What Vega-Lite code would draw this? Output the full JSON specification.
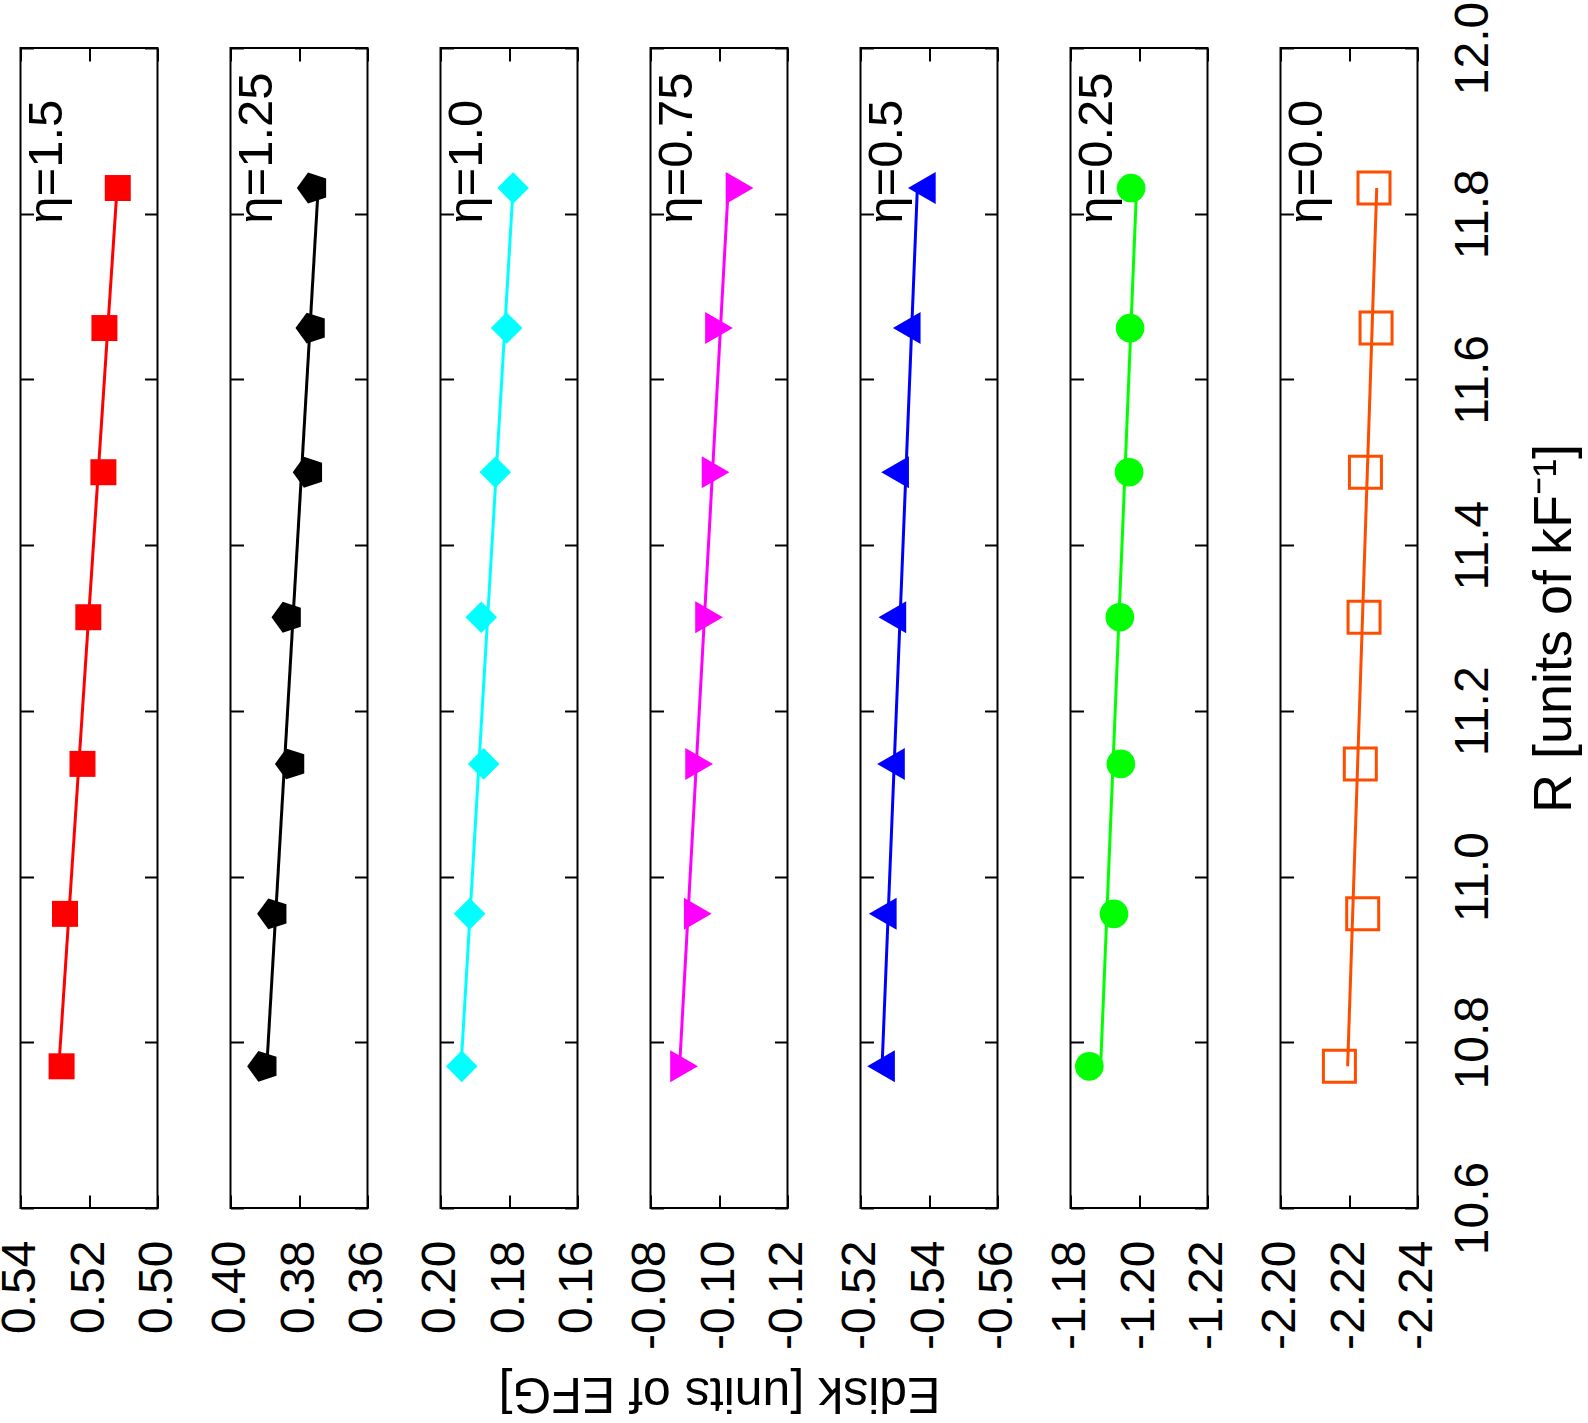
{
  "$schema": "https://vega.github.io/schema/vega-lite/v6.json",
  "background": "white",
  "padding": {"left": -4.5, "top": 0, "right": 0, "bottom": 0},
  "bounds": "flush",
  "spacing": 73,
  "config": {
    "font": "Liberation Sans",
    "view": {"stroke": "black", "strokeWidth": 2},
    "axis": {"domain": false, "grid": false, "tickColor": "black", "tickWidth": 2, "tickSize": -13, "labelFont": "Liberation Sans", "labelFontSize": 48, "labelColor": "black", "labelPadding": 45, "labelOverlap": false, "labelFlush": false, "labelBound": false, "labelExpr": "replace(datum.label, '−', '-')", "titleFont": "Liberation Sans", "titleFontWeight": "normal", "titleColor": "black"},
    "text": {"font": "Liberation Sans"}
  },
  "datasets": {
    "pts": [
      {"p": 1, "k": "pt", "R": 10.771, "E": 0.5280}, {"p": 1, "k": "pt", "R": 10.955, "E": 0.5270}, {"p": 1, "k": "pt", "R": 11.136, "E": 0.5219}, {"p": 1, "k": "pt", "R": 11.313, "E": 0.5202}, {"p": 1, "k": "pt", "R": 11.488, "E": 0.5158}, {"p": 1, "k": "pt", "R": 11.662, "E": 0.5155}, {"p": 1, "k": "pt", "R": 11.831, "E": 0.5116},
      {"p": 1, "k": "fit", "R": 10.771, "E": 0.5288}, {"p": 1, "k": "fit", "R": 11.831, "E": 0.5118},
      {"p": 2, "k": "pt", "R": 10.771, "E": 0.3904}, {"p": 2, "k": "pt", "R": 10.955, "E": 0.3875}, {"p": 2, "k": "pt", "R": 11.136, "E": 0.3823}, {"p": 2, "k": "pt", "R": 11.313, "E": 0.3833}, {"p": 2, "k": "pt", "R": 11.488, "E": 0.3771}, {"p": 2, "k": "pt", "R": 11.662, "E": 0.3763}, {"p": 2, "k": "pt", "R": 11.831, "E": 0.3759},
      {"p": 2, "k": "fit", "R": 10.771, "E": 0.3894}, {"p": 2, "k": "fit", "R": 11.831, "E": 0.3744},
      {"p": 3, "k": "pt", "R": 10.771, "E": 0.1938}, {"p": 3, "k": "pt", "R": 10.955, "E": 0.1915}, {"p": 3, "k": "pt", "R": 11.136, "E": 0.1874}, {"p": 3, "k": "pt", "R": 11.313, "E": 0.1881}, {"p": 3, "k": "pt", "R": 11.488, "E": 0.1840}, {"p": 3, "k": "pt", "R": 11.662, "E": 0.1807}, {"p": 3, "k": "pt", "R": 11.831, "E": 0.1788},
      {"p": 3, "k": "fit", "R": 10.771, "E": 0.1940}, {"p": 3, "k": "fit", "R": 11.831, "E": 0.1788},
      {"p": 4, "k": "pt", "R": 10.771, "E": -0.0898}, {"p": 4, "k": "pt", "R": 10.955, "E": -0.0938}, {"p": 4, "k": "pt", "R": 11.136, "E": -0.0942}, {"p": 4, "k": "pt", "R": 11.313, "E": -0.0971}, {"p": 4, "k": "pt", "R": 11.488, "E": -0.0990}, {"p": 4, "k": "pt", "R": 11.662, "E": -0.1000}, {"p": 4, "k": "pt", "R": 11.831, "E": -0.1060},
      {"p": 4, "k": "fit", "R": 10.771, "E": -0.0885}, {"p": 4, "k": "fit", "R": 11.831, "E": -0.1027},
      {"p": 5, "k": "pt", "R": 10.771, "E": -0.5260}, {"p": 5, "k": "pt", "R": 10.955, "E": -0.5265}, {"p": 5, "k": "pt", "R": 11.136, "E": -0.5289}, {"p": 5, "k": "pt", "R": 11.313, "E": -0.5293}, {"p": 5, "k": "pt", "R": 11.488, "E": -0.5301}, {"p": 5, "k": "pt", "R": 11.662, "E": -0.5335}, {"p": 5, "k": "pt", "R": 11.831, "E": -0.5379},
      {"p": 5, "k": "fit", "R": 10.771, "E": -0.5263}, {"p": 5, "k": "fit", "R": 11.831, "E": -0.5366},
      {"p": 6, "k": "pt", "R": 10.771, "E": -1.1855}, {"p": 6, "k": "pt", "R": 10.955, "E": -1.1927}, {"p": 6, "k": "pt", "R": 11.136, "E": -1.1947}, {"p": 6, "k": "pt", "R": 11.313, "E": -1.1944}, {"p": 6, "k": "pt", "R": 11.488, "E": -1.1971}, {"p": 6, "k": "pt", "R": 11.662, "E": -1.1974}, {"p": 6, "k": "pt", "R": 11.831, "E": -1.1977},
      {"p": 6, "k": "fit", "R": 10.771, "E": -1.1888}, {"p": 6, "k": "fit", "R": 11.831, "E": -1.1993},
      {"p": 7, "k": "pt", "R": 10.771, "E": -2.2172}, {"p": 7, "k": "pt", "R": 10.955, "E": -2.2240}, {"p": 7, "k": "pt", "R": 11.136, "E": -2.2233}, {"p": 7, "k": "pt", "R": 11.313, "E": -2.2244}, {"p": 7, "k": "pt", "R": 11.488, "E": -2.2248}, {"p": 7, "k": "pt", "R": 11.662, "E": -2.2279}, {"p": 7, "k": "pt", "R": 11.831, "E": -2.2273},
      {"p": 7, "k": "fit", "R": 10.771, "E": -2.2196}, {"p": 7, "k": "fit", "R": 11.831, "E": -2.2281}
    ],
    "labs": [
      {"p": 1, "R": 11.788, "E": 0.5278, "t": "η=1.5"},
      {"p": 2, "R": 11.788, "E": 0.3878, "t": "η=1.25"},
      {"p": 3, "R": 11.788, "E": 0.1878, "t": "η=1.0"},
      {"p": 4, "R": 11.788, "E": -0.0922, "t": "η=0.75"},
      {"p": 5, "R": 11.788, "E": -0.5322, "t": "η=0.5"},
      {"p": 6, "R": 11.788, "E": -1.1922, "t": "η=0.25"},
      {"p": 7, "R": 11.788, "E": -2.2122, "t": "η=0.0"}
    ]
  },
  "hconcat": [
    {
      "width": 137, "height": 1160,
      "resolve": {"axis": {"x": "independent", "y": "independent"}},
      "layer": [
        {"data": {"name": "pts"}, "transform": [{"filter": "datum.p == 1 && datum.k == 'fit'"}],
         "mark": {"type": "line", "color": "#ff0000", "strokeWidth": 3},
         "encoding": {
           "x": {"field": "E", "type": "quantitative", "scale": {"domain": [0.50, 0.54], "reverse": true, "nice": false, "zero": false}, "axis": {"orient": "bottom", "values": [0.54, 0.52, 0.50], "format": ".2f", "labelAngle": 270, "labelAlign": "right", "labelBaseline": "middle", "title": null}},
           "y": {"field": "R", "type": "quantitative", "scale": {"domain": [10.6, 12.0], "nice": false, "zero": false}, "axis": {"orient": "right", "values": [10.6, 10.8, 11.0, 11.2, 11.4, 11.6, 11.8, 12.0], "labels": false, "title": null}}
         }},
        {"data": {"name": "pts"}, "transform": [{"filter": "datum.p == 1 && datum.k == 'pt'"}],
         "mark": {"type": "point", "shape": "square", "filled": true, "size": 676, "color": "#ff0000", "opacity": 1},
         "encoding": {
           "x": {"field": "E", "type": "quantitative", "axis": {"orient": "top", "values": [0.54, 0.52, 0.50], "labels": false, "title": null}},
           "y": {"field": "R", "type": "quantitative", "axis": {"orient": "left", "values": [10.6, 10.8, 11.0, 11.2, 11.4, 11.6, 11.8, 12.0], "labels": false, "title": null}}
         }},
        {"data": {"name": "labs"}, "transform": [{"filter": "datum.p == 1"}],
         "mark": {"type": "text", "angle": 270, "align": "left", "baseline": "alphabetic", "fontSize": 49, "color": "black"},
         "encoding": {"x": {"field": "E", "type": "quantitative", "axis": null}, "y": {"field": "R", "type": "quantitative", "axis": null}, "text": {"field": "t"}}}
      ]
    },
    {
      "width": 137, "height": 1160,
      "resolve": {"axis": {"x": "independent", "y": "independent"}},
      "layer": [
        {"data": {"name": "pts"}, "transform": [{"filter": "datum.p == 2 && datum.k == 'fit'"}],
         "mark": {"type": "line", "color": "#000000", "strokeWidth": 3},
         "encoding": {
           "x": {"field": "E", "type": "quantitative", "scale": {"domain": [0.36, 0.40], "reverse": true, "nice": false, "zero": false}, "axis": {"orient": "bottom", "values": [0.40, 0.38, 0.36], "format": ".2f", "labelAngle": 270, "labelAlign": "right", "labelBaseline": "middle", "title": null}},
           "y": {"field": "R", "type": "quantitative", "scale": {"domain": [10.6, 12.0], "nice": false, "zero": false}, "axis": {"orient": "right", "values": [10.6, 10.8, 11.0, 11.2, 11.4, 11.6, 11.8, 12.0], "labels": false, "title": null}}
         }},
        {"data": {"name": "pts"}, "transform": [{"filter": "datum.p == 2 && datum.k == 'pt'"}],
         "mark": {"type": "point", "shape": "M-1,0L-0.309,-0.951L0.809,-0.588L0.809,0.588L-0.309,0.951Z", "filled": true, "size": 1050, "color": "#000000", "opacity": 1},
         "encoding": {
           "x": {"field": "E", "type": "quantitative", "axis": {"orient": "top", "values": [0.40, 0.38, 0.36], "labels": false, "title": null}},
           "y": {"field": "R", "type": "quantitative", "axis": {"orient": "left", "values": [10.6, 10.8, 11.0, 11.2, 11.4, 11.6, 11.8, 12.0], "labels": false, "title": null}}
         }},
        {"data": {"name": "labs"}, "transform": [{"filter": "datum.p == 2"}],
         "mark": {"type": "text", "angle": 270, "align": "left", "baseline": "alphabetic", "fontSize": 49, "color": "black"},
         "encoding": {"x": {"field": "E", "type": "quantitative", "axis": null}, "y": {"field": "R", "type": "quantitative", "axis": null}, "text": {"field": "t"}}}
      ]
    },
    {
      "width": 137, "height": 1160,
      "resolve": {"axis": {"x": "independent", "y": "independent"}},
      "layer": [
        {"data": {"name": "pts"}, "transform": [{"filter": "datum.p == 3 && datum.k == 'fit'"}],
         "mark": {"type": "line", "color": "#00ffff", "strokeWidth": 3},
         "encoding": {
           "x": {"field": "E", "type": "quantitative", "scale": {"domain": [0.16, 0.20], "reverse": true, "nice": false, "zero": false}, "axis": {"orient": "bottom", "values": [0.20, 0.18, 0.16], "format": ".2f", "labelAngle": 270, "labelAlign": "right", "labelBaseline": "middle", "title": null}},
           "y": {"field": "R", "type": "quantitative", "scale": {"domain": [10.6, 12.0], "nice": false, "zero": false}, "axis": {"orient": "right", "values": [10.6, 10.8, 11.0, 11.2, 11.4, 11.6, 11.8, 12.0], "labels": false, "title": null}}
         }},
        {"data": {"name": "pts"}, "transform": [{"filter": "datum.p == 3 && datum.k == 'pt'"}],
         "mark": {"type": "point", "shape": "diamond", "filled": true, "size": 1000, "color": "#00ffff", "opacity": 1},
         "encoding": {
           "x": {"field": "E", "type": "quantitative", "axis": {"orient": "top", "values": [0.20, 0.18, 0.16], "labels": false, "title": null}},
           "y": {"field": "R", "type": "quantitative", "axis": {"orient": "left", "values": [10.6, 10.8, 11.0, 11.2, 11.4, 11.6, 11.8, 12.0], "labels": false, "title": null}}
         }},
        {"data": {"name": "labs"}, "transform": [{"filter": "datum.p == 3"}],
         "mark": {"type": "text", "angle": 270, "align": "left", "baseline": "alphabetic", "fontSize": 49, "color": "black"},
         "encoding": {"x": {"field": "E", "type": "quantitative", "axis": null}, "y": {"field": "R", "type": "quantitative", "axis": null}, "text": {"field": "t"}}}
      ]
    },
    {
      "width": 137, "height": 1160,
      "resolve": {"axis": {"x": "independent", "y": "independent"}},
      "layer": [
        {"data": {"name": "pts"}, "transform": [{"filter": "datum.p == 4 && datum.k == 'fit'"}],
         "mark": {"type": "line", "color": "#ff00ff", "strokeWidth": 3},
         "encoding": {
           "x": {"field": "E", "type": "quantitative", "scale": {"domain": [-0.12, -0.08], "reverse": true, "nice": false, "zero": false}, "axis": {"orient": "bottom", "values": [-0.08, -0.10, -0.12], "format": ".2f", "labelAngle": 270, "labelAlign": "right", "labelBaseline": "middle", "title": "Edisk [units of EFG]", "titleAngle": 180, "titleBaseline": "bottom", "titleFontSize": 50, "titlePadding": 18}},
           "y": {"field": "R", "type": "quantitative", "scale": {"domain": [10.6, 12.0], "nice": false, "zero": false}, "axis": {"orient": "right", "values": [10.6, 10.8, 11.0, 11.2, 11.4, 11.6, 11.8, 12.0], "labels": false, "title": null}}
         }},
        {"data": {"name": "pts"}, "transform": [{"filter": "datum.p == 4 && datum.k == 'pt'"}],
         "mark": {"type": "point", "shape": "triangle-right", "filled": true, "size": 1024, "color": "#ff00ff", "opacity": 1},
         "encoding": {
           "x": {"field": "E", "type": "quantitative", "axis": {"orient": "top", "values": [-0.08, -0.10, -0.12], "labels": false, "title": null}},
           "y": {"field": "R", "type": "quantitative", "axis": {"orient": "left", "values": [10.6, 10.8, 11.0, 11.2, 11.4, 11.6, 11.8, 12.0], "labels": false, "title": null}}
         }},
        {"data": {"name": "labs"}, "transform": [{"filter": "datum.p == 4"}],
         "mark": {"type": "text", "angle": 270, "align": "left", "baseline": "alphabetic", "fontSize": 49, "color": "black"},
         "encoding": {"x": {"field": "E", "type": "quantitative", "axis": null}, "y": {"field": "R", "type": "quantitative", "axis": null}, "text": {"field": "t"}}}
      ]
    },
    {
      "width": 137, "height": 1160,
      "resolve": {"axis": {"x": "independent", "y": "independent"}},
      "layer": [
        {"data": {"name": "pts"}, "transform": [{"filter": "datum.p == 5 && datum.k == 'fit'"}],
         "mark": {"type": "line", "color": "#0000ff", "strokeWidth": 3},
         "encoding": {
           "x": {"field": "E", "type": "quantitative", "scale": {"domain": [-0.56, -0.52], "reverse": true, "nice": false, "zero": false}, "axis": {"orient": "bottom", "values": [-0.52, -0.54, -0.56], "format": ".2f", "labelAngle": 270, "labelAlign": "right", "labelBaseline": "middle", "title": null}},
           "y": {"field": "R", "type": "quantitative", "scale": {"domain": [10.6, 12.0], "nice": false, "zero": false}, "axis": {"orient": "right", "values": [10.6, 10.8, 11.0, 11.2, 11.4, 11.6, 11.8, 12.0], "labels": false, "title": null}}
         }},
        {"data": {"name": "pts"}, "transform": [{"filter": "datum.p == 5 && datum.k == 'pt'"}],
         "mark": {"type": "point", "shape": "triangle-left", "filled": true, "size": 1024, "color": "#0000ff", "opacity": 1},
         "encoding": {
           "x": {"field": "E", "type": "quantitative", "axis": {"orient": "top", "values": [-0.52, -0.54, -0.56], "labels": false, "title": null}},
           "y": {"field": "R", "type": "quantitative", "axis": {"orient": "left", "values": [10.6, 10.8, 11.0, 11.2, 11.4, 11.6, 11.8, 12.0], "labels": false, "title": null}}
         }},
        {"data": {"name": "labs"}, "transform": [{"filter": "datum.p == 5"}],
         "mark": {"type": "text", "angle": 270, "align": "left", "baseline": "alphabetic", "fontSize": 49, "color": "black"},
         "encoding": {"x": {"field": "E", "type": "quantitative", "axis": null}, "y": {"field": "R", "type": "quantitative", "axis": null}, "text": {"field": "t"}}}
      ]
    },
    {
      "width": 137, "height": 1160,
      "resolve": {"axis": {"x": "independent", "y": "independent"}},
      "layer": [
        {"data": {"name": "pts"}, "transform": [{"filter": "datum.p == 6 && datum.k == 'fit'"}],
         "mark": {"type": "line", "color": "#00ff00", "strokeWidth": 3},
         "encoding": {
           "x": {"field": "E", "type": "quantitative", "scale": {"domain": [-1.22, -1.18], "reverse": true, "nice": false, "zero": false}, "axis": {"orient": "bottom", "values": [-1.18, -1.20, -1.22], "format": ".2f", "labelAngle": 270, "labelAlign": "right", "labelBaseline": "middle", "title": null}},
           "y": {"field": "R", "type": "quantitative", "scale": {"domain": [10.6, 12.0], "nice": false, "zero": false}, "axis": {"orient": "right", "values": [10.6, 10.8, 11.0, 11.2, 11.4, 11.6, 11.8, 12.0], "labels": false, "title": null}}
         }},
        {"data": {"name": "pts"}, "transform": [{"filter": "datum.p == 6 && datum.k == 'pt'"}],
         "mark": {"type": "point", "shape": "circle", "filled": true, "size": 820, "color": "#00ff00", "opacity": 1},
         "encoding": {
           "x": {"field": "E", "type": "quantitative", "axis": {"orient": "top", "values": [-1.18, -1.20, -1.22], "labels": false, "title": null}},
           "y": {"field": "R", "type": "quantitative", "axis": {"orient": "left", "values": [10.6, 10.8, 11.0, 11.2, 11.4, 11.6, 11.8, 12.0], "labels": false, "title": null}}
         }},
        {"data": {"name": "labs"}, "transform": [{"filter": "datum.p == 6"}],
         "mark": {"type": "text", "angle": 270, "align": "left", "baseline": "alphabetic", "fontSize": 49, "color": "black"},
         "encoding": {"x": {"field": "E", "type": "quantitative", "axis": null}, "y": {"field": "R", "type": "quantitative", "axis": null}, "text": {"field": "t"}}}
      ]
    },
    {
      "width": 137, "height": 1160,
      "resolve": {"axis": {"x": "independent", "y": "independent"}},
      "layer": [
        {"data": {"name": "pts"}, "transform": [{"filter": "datum.p == 7 && datum.k == 'fit'"}],
         "mark": {"type": "line", "color": "#ff4d00", "strokeWidth": 3},
         "encoding": {
           "x": {"field": "E", "type": "quantitative", "scale": {"domain": [-2.24, -2.20], "reverse": true, "nice": false, "zero": false}, "axis": {"orient": "bottom", "values": [-2.20, -2.22, -2.24], "format": ".2f", "labelAngle": 270, "labelAlign": "right", "labelBaseline": "middle", "title": null}},
           "y": {"field": "R", "type": "quantitative", "scale": {"domain": [10.6, 12.0], "nice": false, "zero": false}, "axis": {"orient": "right", "values": [10.6, 10.8, 11.0, 11.2, 11.4, 11.6, 11.8, 12.0], "format": ".1f", "labelAngle": 270, "labelAlign": "center", "labelBaseline": "top", "title": "R [units of kF⁻¹]", "titleAngle": 270, "titleBaseline": "top", "titleFontSize": 54, "titlePadding": 30}}
         }},
        {"data": {"name": "pts"}, "transform": [{"filter": "datum.p == 7 && datum.k == 'pt'"}],
         "mark": {"type": "point", "shape": "square", "filled": false, "size": 1024, "strokeWidth": 3, "color": "#ff4d00", "opacity": 1},
         "encoding": {
           "x": {"field": "E", "type": "quantitative", "axis": {"orient": "top", "values": [-2.20, -2.22, -2.24], "labels": false, "title": null}},
           "y": {"field": "R", "type": "quantitative", "axis": {"orient": "left", "values": [10.6, 10.8, 11.0, 11.2, 11.4, 11.6, 11.8, 12.0], "labels": false, "title": null}}
         }},
        {"data": {"name": "labs"}, "transform": [{"filter": "datum.p == 7"}],
         "mark": {"type": "text", "angle": 270, "align": "left", "baseline": "alphabetic", "fontSize": 49, "color": "black"},
         "encoding": {"x": {"field": "E", "type": "quantitative", "axis": null}, "y": {"field": "R", "type": "quantitative", "axis": null}, "text": {"field": "t"}}}
      ]
    }
  ]
}
